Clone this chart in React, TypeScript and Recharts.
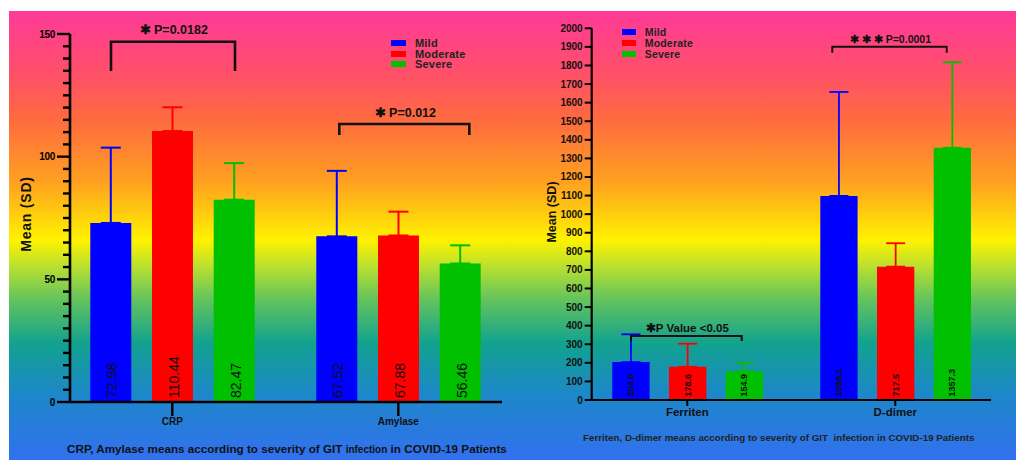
import React from "react";
import { Bar, BarChart, ErrorBar, LabelList, Legend, XAxis, YAxis } from "recharts";

// left panel: CRP / Amylase
const leftCategories = ["CRP", "Amylase"];
const leftMild = [72.98, 67.52];
const leftModerate = [110.44, 67.88];
const leftSevere = [82.47, 56.46];
const leftMildSd = [30.7, 26.7];
const leftModerateSd = [9.7, 9.7];
const leftSevereSd = [14.9, 7.4];
const leftTicks = [0, 5, 10, 15, 20, 25, 30, 35, 40, 45, 50, 55, 60, 65, 70, 75, 80, 85, 90, 95, 100, 105, 110, 115, 120, 125, 130, 135, 140, 145, 150];
const leftMajorTicks = [0, 50, 100, 150];

// right panel: Ferriten / D-dimer
const rightCategories = ["Ferriten", "D-dimer"];
const rightMild = [204.0, 1098.1];
const rightModerate = [178.6, 717.5];
const rightSevere = [154.9, 1357.3];
const rightMildSd = [149.5, 559.6];
const rightModerateSd = [124.4, 126];
const rightSevereSd = [46, 460];
const rightTicks = [0, 100, 200, 300, 400, 500, 600, 700, 800, 900, 1000, 1100, 1200, 1300, 1400, 1500, 1600, 1700, 1800, 1900, 2000];

const FONT = "'Liberation Sans', Arial, sans-serif";
const BLUE = "#0000ff";
const RED = "#ff0000";
const GREEN = "#00c000";

const leftData = leftCategories.map((name, i) => ({
  name,
  mild: leftMild[i],
  moderate: leftModerate[i],
  severe: leftSevere[i],
  mildErr: [0, leftMildSd[i]],
  moderateErr: [0, leftModerateSd[i]],
  severeErr: [0, leftSevereSd[i]],
}));

const rightData = rightCategories.map((name, i) => ({
  name,
  mild: rightMild[i],
  moderate: rightModerate[i],
  severe: rightSevere[i],
  mildErr: [0, rightMildSd[i]],
  moderateErr: [0, rightModerateSd[i]],
  severeErr: [0, rightSevereSd[i]],
}));

function LeftYTick(props: any) {
  const { x, y, payload } = props;
  const major = leftMajorTicks.includes(payload.value);
  return (
    <g>
      <line x1={x - (major ? 13 : 7)} x2={x} y1={y} y2={y} stroke="#000" strokeWidth={2.4} />
      {major && (
        <text x={x - 15} y={y} dy={3.6} textAnchor="end" fontSize={10} fontWeight="bold" fontFamily={FONT} letterSpacing={-0.3} fill="#000">
          {payload.value}
        </text>
      )}
    </g>
  );
}

function RightYTick(props: any) {
  const { x, y, payload } = props;
  return (
    <g>
      <line x1={x - 7} x2={x} y1={y} y2={y} stroke="#000" strokeWidth={2} />
      <text x={x - 9} y={y} dy={3.5} textAnchor="end" fontSize={10} fontWeight="bold" fontFamily={FONT} fill="#111">
        {payload.value}
      </text>
    </g>
  );
}

const leftValueLabel = (props: any) => {
  const { x, y, width, height, value } = props;
  const cx = x + width / 2 + 1.5;
  const by = y + height - 4;
  return (
    <text x={cx} y={by} transform={`rotate(-90 ${cx} ${by})`} textAnchor="start" dominantBaseline="central" fontSize={14} fontFamily={FONT} fill="#111">
      {Number(value).toFixed(2)}
    </text>
  );
};

const rightValueLabel = (props: any) => {
  const { x, y, width, height, value } = props;
  const cx = x + width / 2;
  const by = y + height - 3.5;
  return (
    <text x={cx} y={by} transform={`rotate(-90 ${cx} ${by})`} textAnchor="start" dominantBaseline="central" fontSize={9} fontWeight="bold" fontFamily={FONT} fill="#111">
      {Number(value).toFixed(1)}
    </text>
  );
};

function legendContent(rowGap: number, fontSize: number, swatchW: number) {
  return (props: any) => {
    const items = props.payload || [];
    return (
      <div>
        {items.map((it: any) => (
          <div key={it.value} style={{ display: "flex", alignItems: "center", height: rowGap, fontFamily: FONT, fontWeight: "bold", fontSize, color: "#222", letterSpacing: 0.2 }}>
            <span style={{ display: "inline-block", width: swatchW, height: 6, background: it.color, marginRight: 9 }} />
            {it.value}
          </div>
        ))}
      </div>
    );
  };
}

export default function App() {
  return (
    <div style={{ position: "absolute", left: 0, top: 0, width: 1016, height: 460, background: "#fff", overflow: "hidden" }}>
      <div
        style={{
          position: "absolute",
          left: 9,
          top: 11,
          width: 1007,
          height: 449,
          background:
            "linear-gradient(to bottom, #ff3a98 0%, #ff5068 14%, #ff6a40 24%, #ffa020 38%, #fff200 51%, #b8e030 57%, #66c45c 64%, #12a28e 74%, #1c88c8 85%, #3270f0 100%)",
        }}
      />

      <div style={{ position: "absolute", left: 0, top: 0 }}>
        <BarChart width={520} height={460} data={leftData} margin={{ top: 34, right: 18, left: 0, bottom: 28 }} barSize={41} barGap={20.7}>
          <XAxis
            dataKey="name"
            height={30}
            padding={{ left: -10.7, right: -9.3 }}
            axisLine={{ stroke: "#000", strokeWidth: 2.6 }}
            tickLine={{ stroke: "#000", strokeWidth: 2.4 }}
            tickSize={14}
            tick={{ fontSize: 10, fontWeight: "bold", fill: "#111", fontFamily: FONT }}
            interval={0}
          />
          <YAxis
            width={70}
            domain={[0, 150]}
            ticks={leftTicks}
            interval={0}
            tickSize={0}
            tickMargin={0}
            tickLine={false}
            axisLine={{ stroke: "#000", strokeWidth: 2.6 }}
            tick={<LeftYTick />}
          />
          <Legend
            layout="horizontal"
            verticalAlign="middle"
            align="center"
            wrapperStyle={{ left: 391, top: 38, width: 110, height: 34 }}
            content={legendContent(10.5, 11, 15)}
          />
          <Bar dataKey="mild" name="Mild" fill={BLUE} isAnimationActive={false}>
            <ErrorBar dataKey="mildErr" direction="y" width={10} stroke={BLUE} strokeWidth={2} />
            <LabelList dataKey="mild" content={leftValueLabel} />
          </Bar>
          <Bar dataKey="moderate" name="Moderate" fill={RED} isAnimationActive={false}>
            <ErrorBar dataKey="moderateErr" direction="y" width={10} stroke={RED} strokeWidth={2} />
            <LabelList dataKey="moderate" content={leftValueLabel} />
          </Bar>
          <Bar dataKey="severe" name="Severe" fill={GREEN} isAnimationActive={false}>
            <ErrorBar dataKey="severeErr" direction="y" width={10} stroke={GREEN} strokeWidth={2} />
            <LabelList dataKey="severe" content={leftValueLabel} />
          </Bar>
        </BarChart>
      </div>

      <div style={{ position: "absolute", left: 520, top: 0 }}>
        <BarChart width={496} height={460} data={rightData} margin={{ top: 28.3, right: 25, left: 0, bottom: 30 }} barSize={37.3} barGap={19.4}>
          <XAxis
            dataKey="name"
            height={30}
            padding={{ left: -8.4, right: -8.3 }}
            axisLine={{ stroke: "#000", strokeWidth: 2.2 }}
            tickLine={{ stroke: "#000", strokeWidth: 2 }}
            tickSize={6}
            tick={{ fontSize: 11.5, fontWeight: "bold", fill: "#111", fontFamily: FONT }}
            interval={0}
          />
          <YAxis
            width={71.7}
            domain={[0, 2000]}
            ticks={rightTicks}
            interval={0}
            tickSize={0}
            tickMargin={0}
            tickLine={false}
            axisLine={{ stroke: "#000", strokeWidth: 2.2 }}
            tick={<RightYTick />}
          />
          <Legend
            layout="horizontal"
            verticalAlign="middle"
            align="center"
            wrapperStyle={{ left: 101.7, top: 26, width: 110, height: 34 }}
            content={legendContent(11.2, 10.5, 14)}
          />
          <Bar dataKey="mild" name="Mild" fill={BLUE} isAnimationActive={false}>
            <ErrorBar dataKey="mildErr" direction="y" width={9.5} stroke={BLUE} strokeWidth={1.8} />
            <LabelList dataKey="mild" content={rightValueLabel} />
          </Bar>
          <Bar dataKey="moderate" name="Moderate" fill={RED} isAnimationActive={false}>
            <ErrorBar dataKey="moderateErr" direction="y" width={9.5} stroke={RED} strokeWidth={1.8} />
            <LabelList dataKey="moderate" content={rightValueLabel} />
          </Bar>
          <Bar dataKey="severe" name="Severe" fill={GREEN} isAnimationActive={false}>
            <ErrorBar dataKey="severeErr" direction="y" width={9.5} stroke={GREEN} strokeWidth={1.8} />
            <LabelList dataKey="severe" content={rightValueLabel} />
          </Bar>
        </BarChart>
      </div>

      {/* annotations: significance brackets, axis titles, captions */}
      <svg width={1016} height={460} style={{ position: "absolute", left: 0, top: 0, pointerEvents: "none" }} fontFamily={FONT}>
        <g fill="none" stroke="#111" strokeWidth={2.6}>
          <polyline points="111,71 111,41.7 235,41.7 235,71" />
          <polyline points="339.3,135 339.3,124 469.3,124 469.3,135" />
        </g>
        <g fill="none" stroke="#111" strokeWidth={2}>
          <polyline points="832.3,52.7 832.3,46.7 946.7,46.7 946.7,52.7" />
          <polyline points="631,341 631,336 741.7,336 741.7,341" />
        </g>
        <g fontWeight="bold" fill="#111" textAnchor="middle">
          <text x={173.7} y={34} fontSize={12.5}>✱ P=0.0182</text>
          <text x={405.3} y={116.5} fontSize={12.5}>✱ P=0.012</text>
          <text x={890.5} y={43} fontSize={10.5}>✱ ✱ ✱ P=0.0001</text>
          <text x={687.3} y={331.8} fontSize={11.5}>✱P Value &lt;0.05</text>
        </g>
        <text x={0} y={0} transform="translate(31 214) rotate(-90)" textAnchor="middle" fontSize={14} fontWeight="bold" fill="#111" letterSpacing={0.8}>
          Mean (SD)
        </text>
        <text x={0} y={0} transform="translate(556 212) rotate(-90)" textAnchor="middle" fontSize={12.5} fontWeight="bold" fill="#111">
          Mean (SD)
        </text>
        <text x={67} y={452.5} fontSize={11.7} fontWeight="bold" fill="#111">
          CRP, Amylase means according to severity of GIT <tspan fontSize={10}>infection</tspan> in COVID-19 Patients
        </text>
        <text x={583} y={440.5} fontSize={9.8} fontWeight="bold" fill="#222" style={{ whiteSpace: "pre" }}>
          {"Ferriten, D-dimer means according to severity of GIT  infection in COVID-19 Patients"}
        </text>
      </svg>
    </div>
  );
}
